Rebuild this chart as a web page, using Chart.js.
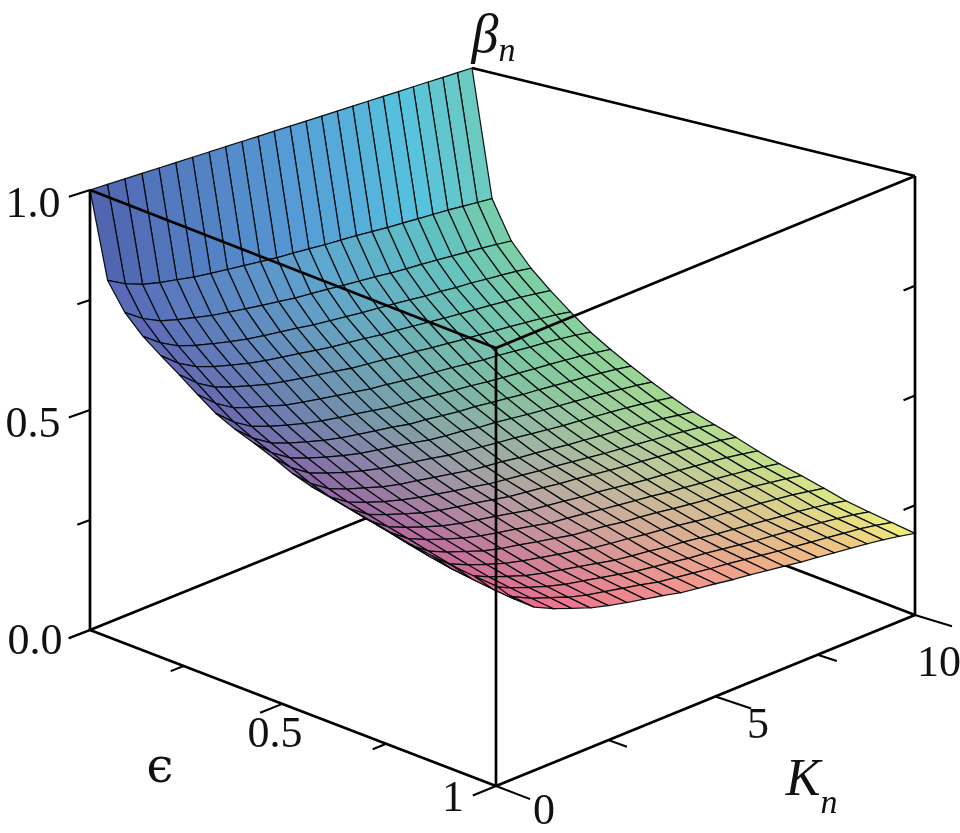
<!DOCTYPE html>
<html>
<head>
<meta charset="UTF-8">
<title>beta_n surface</title>
<script src="https://cdn.jsdelivr.net/npm/chart.js@4/dist/chart.umd.js"></script>
<style>
  html, body { margin: 0; padding: 0; background: #fff; }
  canvas { display: block; filter: blur(0.4px); }
</style>
</head>
<body>
<canvas id="chart" width="960" height="833"></canvas>
<script>
// data
const kValues = [0,0.417,0.833,1.25,1.667,2.083,2.5,2.917,3.333,3.75,4.167,4.583,5,5.417,5.833,6.25,6.667,7.083,7.5,7.917,8.333,8.75,9.167,9.583,10];
const epsValues = [0,0.048,0.095,0.143,0.19,0.238,0.286,0.333,0.381,0.429,0.476,0.524,0.571,0.619,0.667,0.714,0.762,0.81,0.857,0.905,0.952,1];
// one row per eps value, one column per K value
const betaRows = [
  [1,1,1,1,1,1,1,1,1,1,1,1,1,1,1,1,1,1,1,1,1,1,1,1,1],
  [.810,.789,.774,.765,.758,.751,.746,.742,.738,.734,.730,.728,.725,.722,.720,.718,.715,.712,.710,.708,.706,.704,.701,.698,.695],
  [.752,.725,.706,.695,.686,.677,.671,.665,.660,.655,.650,.647,.644,.640,.637,.634,.630,.627,.625,.622,.619,.616,.613,.609,.605],
  [.714,.685,.664,.651,.641,.632,.624,.618,.613,.608,.602,.598,.594,.590,.587,.584,.580,.576,.574,.570,.568,.564,.561,.557,.552],
  [.686,.654,.632,.618,.607,.597,.589,.583,.577,.571,.565,.561,.557,.552,.549,.545,.541,.537,.534,.531,.528,.524,.521,.516,.511],
  [.659,.625,.601,.587,.575,.564,.556,.549,.543,.537,.530,.526,.522,.517,.514,.509,.505,.501,.498,.494,.491,.487,.483,.479,.473],
  [.630,.595,.570,.556,.544,.532,.524,.517,.510,.504,.497,.493,.488,.483,.480,.476,.471,.467,.464,.460,.456,.453,.449,.444,.438],
  [.603,.568,.543,.528,.516,.505,.496,.489,.483,.476,.469,.465,.461,.456,.452,.448,.443,.439,.436,.432,.429,.425,.421,.416,.410],
  [.584,.548,.522,.506,.494,.482,.473,.466,.459,.453,.445,.441,.436,.431,.428,.423,.419,.414,.411,.407,.403,.399,.395,.390,.384],
  [.569,.531,.504,.488,.475,.463,.453,.446,.439,.432,.424,.419,.415,.409,.406,.401,.396,.392,.388,.384,.380,.376,.371,.366,.360],
  [.553,.514,.486,.470,.456,.444,.434,.426,.419,.412,.404,.399,.394,.389,.385,.380,.375,.370,.367,.363,.359,.355,.350,.344,.338],
  [.534,.495,.467,.450,.437,.424,.414,.407,.399,.392,.384,.379,.375,.369,.365,.360,.355,.351,.347,.343,.339,.335,.330,.324,.318],
  [.521,.481,.453,.436,.422,.410,.400,.392,.384,.377,.369,.364,.359,.354,.350,.345,.340,.335,.331,.327,.323,.319,.314,.309,.302],
  [.512,.471,.442,.425,.411,.397,.387,.379,.372,.364,.356,.351,.346,.340,.336,.331,.326,.321,.317,.313,.309,.304,.299,.294,.287],
  [.503,.461,.431,.413,.398,.384,.374,.366,.358,.350,.341,.336,.331,.325,.321,.316,.310,.305,.301,.297,.292,.288,.283,.277,.270],
  [.495,.452,.421,.402,.387,.373,.362,.353,.345,.337,.328,.323,.318,.312,.307,.302,.297,.291,.287,.282,.278,.273,.268,.262,.255],
  [.485,.441,.410,.391,.376,.361,.350,.342,.333,.325,.316,.311,.306,.299,.295,.290,.284,.279,.274,.270,.265,.261,.255,.249,.242],
  [.476,.431,.399,.380,.364,.350,.339,.330,.321,.313,.304,.298,.293,.287,.282,.277,.271,.265,.261,.256,.252,.247,.242,.235,.228],
  [.469,.423,.390,.370,.354,.339,.328,.319,.310,.301,.292,.286,.281,.274,.270,.264,.258,.253,.248,.243,.238,.234,.228,.222,.214],
  [.464,.417,.383,.363,.347,.332,.320,.311,.302,.293,.284,.278,.272,.265,.261,.255,.249,.243,.239,.234,.229,.224,.218,.212,.204],
  [.460,.412,.378,.357,.341,.325,.313,.304,.295,.286,.276,.270,.264,.258,.253,.247,.241,.235,.230,.225,.220,.215,.210,.203,.195],
  [.457,.408,.373,.352,.335,.319,.307,.297,.288,.279,.269,.263,.257,.250,.245,.239,.233,.227,.222,.217,.212,.207,.201,.194,.186]
];
const betaTicks = [0, 0.25, 0.5, 0.75, 1];
const epsTicks = [0, 0.25, 0.5, 0.75, 1];
const kTicks = [0, 2.5, 5, 7.5, 10];
const majorTicks = { beta: [0, 0.5, 1], eps: [0, 0.5, 1], k: [0, 5, 10] };

// box corners on screen: (K0,e0) (K0,e1) (K1,e1) (K1,e0)
const floorCorners = [[90,630],[496,786],[915,615],[475,480]];
const floorCornersBox = [[90,630],[496,786],[915,615],[510,460]];
const topCorners = [[90,190],[496,348],[915,176],[472,68]];

function warpE(e) { return e * 0.9 / (1 - 0.1 * e); }
function warpK(k) { return k * 1.1 / (1 + 0.1 * k); }

function bilinear(q, k, e) {
  const out = [];
  for (let c = 0; c < 2; c++) {
    const a = q[0][c] + (q[1][c] - q[0][c]) * e;
    const b = q[3][c] + (q[2][c] - q[3][c]) * e;
    out.push(a + (b - a) * k);
  }
  return out;
}

// K, eps, beta -> x/y values of the hidden linear scales
function project(k, e, b, floor = floorCorners) {
  const ku = warpK(k / 10), eu = warpE(e);
  const f = bilinear(floor, ku, eu), t = bilinear(topCorners, ku, eu);
  return { x: f[0] + (t[0] - f[0]) * b, y: f[1] + (t[1] - f[1]) * b };
}

// surface colour by position (lighting look of the original)
const colorE = [0, 0.05, 0.33, 0.66, 1];
const colorK = [0, 0.5, 0.8, 1];
const colorGrid = [
  ['#4a5ea8','#5098dc','#50c4f2','#66c8d0'],
  ['#5868b6','#5ca4d2','#5cc0c8','#76ceaa'],
  ['#6c62b0','#78aca8','#80c8a0','#90d498'],
  ['#a85aa0','#bfaaa0','#c0cc98','#c0e088'],
  ['#f06490','#f49a8c','#f2c084','#f2f07c']
];
function hexRgb(h) { return [1, 3, 5].map(p => parseInt(h.substr(p, 2), 16)); }
function findCell(list, v) {
  let n = 0;
  while (n < list.length - 2 && v > list[n + 1]) n++;
  return [n, (v - list[n]) / (list[n + 1] - list[n])];
}
function cellColor(e, k) {
  const [r, tr] = findCell(colorE, e), [c, tc] = findCell(colorK, k);
  const rgb = [0, 1, 2].map(n => {
    const a = hexRgb(colorGrid[r][c])[n] * (1 - tc) + hexRgb(colorGrid[r][c + 1])[n] * tc;
    const b = hexRgb(colorGrid[r + 1][c])[n] * (1 - tc) + hexRgb(colorGrid[r + 1][c + 1])[n] * tc;
    return Math.round(a * (1 - tr) + b * tr);
  });
  return `rgb(${rgb.join(',')})`;
}

function boxLine(a, b, floor) {
  return {
    data: [project(a[0], a[1], a[2], floor), project(b[0], b[1], b[2], floor)],
    showLine: true, pointRadius: 0, borderColor: '#000', borderWidth: 2.7, fill: false
  };
}
function tickLine(a, b) {
  const d = boxLine(a, b);
  d.borderWidth = 2.1;
  return d;
}

const datasets = [];   // first dataset ends up on top

// front edges of the box, over the surface
datasets.push(boxLine([0,0,1], [0,1,1]));
datasets.push(boxLine([0,1,1], [10,1,1]));
datasets.push(boxLine([0,0,0], [0,0,1]));
datasets.push(boxLine([0,1,0], [0,1,1]));
datasets.push(boxLine([10,1,0], [10,1,1]));
datasets.push(boxLine([0,0,0], [0,1,0]));
datasets.push(boxLine([0,1,0], [10,1,0]));

// ticks
betaTicks.forEach(b => {
  const len = majorTicks.beta.includes(b) ? -0.5 : -0.3;
  datasets.push(tickLine([0,0,b], [len,0,b]));
  if (b > 0 && b < 1) datasets.push(tickLine([10,1,b], [9.7,1,b]));
});
epsTicks.forEach(e => {
  const len = majorTicks.eps.includes(e) ? -0.5 : -0.3;
  datasets.push(tickLine([0,e,0], [len,e,0]));
});
kTicks.forEach(k => {
  const len = majorTicks.k.includes(k) ? 1.075 : 1.04;
  datasets.push(tickLine([k,1,0], [k,len,0]));
});

// surface cells, nearest first
for (let i = epsValues.length - 2; i >= 0; i--) {
  for (let j = 0; j < kValues.length - 1; j++) {
    const pts = [
      project(kValues[j], epsValues[i], betaRows[i][j]),
      project(kValues[j + 1], epsValues[i], betaRows[i][j + 1]),
      project(kValues[j + 1], epsValues[i + 1], betaRows[i + 1][j + 1]),
      project(kValues[j], epsValues[i + 1], betaRows[i + 1][j]),
      project(kValues[j], epsValues[i], betaRows[i][j])
    ];
    datasets.push({
      data: pts, showLine: true, pointRadius: 0, tension: 0,
      borderColor: 'rgba(0,10,10,0.95)', borderWidth: 1.25,
      backgroundColor: cellColor((epsValues[i] + epsValues[i + 1]) / 2, (kValues[j] + kValues[j + 1]) / 20),
      fill: 'shape'
    });
  }
}

// back edges, behind the surface
datasets.push(boxLine([10,0,1], [10,1,1]));
datasets.push(boxLine([0,0,0], [10,0,0], floorCornersBox));
datasets.push(boxLine([10,0,0], [10,1,0], floorCornersBox));

// axis text
const serif = '"Liberation Serif", "DejaVu Serif", serif';
const axisText = [
  { t: '1.0', x: 33, y: 205, f: `44px ${serif}` },
  { t: '0.5', x: 33, y: 425, f: `44px ${serif}` },
  { t: '0.0', x: 35, y: 642, f: `44px ${serif}` },
  { t: '0.5', x: 275, y: 735, f: `44px ${serif}` },
  { t: '1', x: 453, y: 799, f: `44px ${serif}` },
  { t: '0', x: 544, y: 812, f: `44px ${serif}` },
  { t: '5', x: 758, y: 726, f: `44px ${serif}` },
  { t: '10', x: 939, y: 664, f: `44px ${serif}` },
  { t: '\u03F5', x: 160, y: 770, f: `48px "DejaVu Serif", serif` },
  { t: 'K', x: 803, y: 781, f: `italic 52px ${serif}` },
  { t: 'n', x: 829, y: 804, f: `italic 34px ${serif}` },
  { t: '\u03B2', x: 485, y: 38, f: `italic 54px ${serif}` },
  { t: 'n', x: 507, y: 52, f: `italic 34px ${serif}` }
];
const textPlugin = {
  id: 'axisText',
  afterDraw(chart) {
    const ctx = chart.ctx;
    ctx.save();
    ctx.fillStyle = '#111';
    ctx.textAlign = 'center';
    ctx.textBaseline = 'middle';
    axisText.forEach(a => {
      ctx.font = a.f;
      ctx.fillText(a.t, a.x, a.y);
    });
    ctx.restore();
  }
};

new Chart(document.getElementById('chart'), {
  type: 'scatter',
  data: { datasets },
  options: {
    responsive: false,
    animation: false,
    layout: { padding: 0 },
    plugins: { legend: { display: false }, tooltip: { enabled: false }, title: { display: false } },
    scales: {
      x: { type: 'linear', min: 0, max: 960, display: false },
      y: { type: 'linear', min: 0, max: 833, reverse: true, display: false }
    }
  },
  plugins: [textPlugin]
});
</script>
</body>
</html>
